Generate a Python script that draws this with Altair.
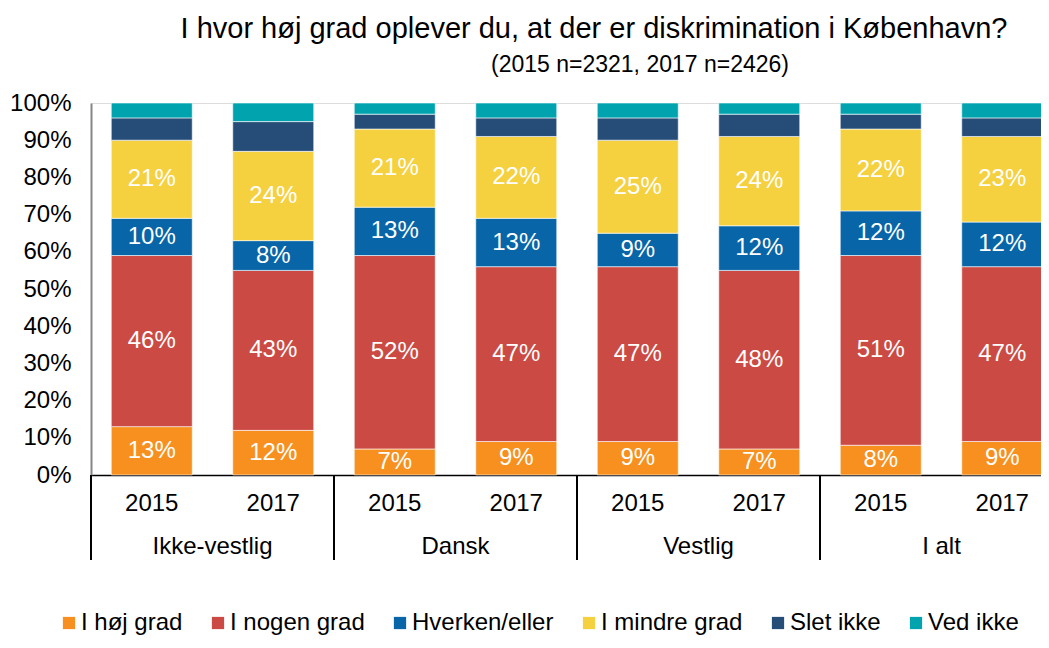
import altair as alt
import pandas as pd

FONT = "Liberation Sans"

groups = ["Ikke-vestlig", "Dansk", "Vestlig", "I alt"]
years = ["2015", "2017"]
categories = ["I høj grad", "I nogen grad", "Hverken/eller", "I mindre grad", "Slet ikke", "Ved ikke"]
colors = ["#F7901E", "#CB4A44", "#0765A8", "#F5D03F", "#264D78", "#00A3AE"]

# values per bar: Ikke-vestlig 2015, 2017, Dansk 2015, 2017, Vestlig 2015, 2017, I alt 2015, 2017
hoej_grad = [13, 12, 7, 9, 9, 7, 8, 9]
nogen_grad = [46, 43, 52, 47, 47, 48, 51, 47]
hverken_eller = [10, 8, 13, 13, 9, 12, 12, 12]
mindre_grad = [21, 24, 21, 22, 25, 24, 22, 23]
slet_ikke = [6, 8, 4, 5, 6, 6, 4, 5]
ved_ikke = [4, 5, 3, 4, 4, 3, 3, 4]
series = [hoej_grad, nogen_grad, hverken_eller, mindre_grad, slet_ikke, ved_ikke]
labelled = [True, True, True, True, False, False]
y_ticks = [0, 0.1, 0.2, 0.3, 0.4, 0.5, 0.6, 0.7, 0.8, 0.9, 1.0]

title_line1 = "I hvor høj grad oplever du, at der er diskrimination i København?"
title_line2 = "(2015 n=2321, 2017 n=2426)"

bar_keys = [f"{g}|{y}" for g in groups for y in years]
rows = []
for ci, (cat, vals) in enumerate(zip(categories, series)):
    for k, v in zip(bar_keys, vals):
        rows.append({"key": k, "cat": cat, "order": ci, "value": v / 100, "show": labelled[ci]})
df = pd.DataFrame(rows)

grp_df = pd.DataFrame({"group": groups, "key": [f"{g}|{years[0]}" for g in groups]})
sub_df = pd.DataFrame({"t": [title_line2]})

W = 950
H = 372
STEP = 121.5

xscale = alt.Scale(domain=bar_keys, range=[0, STEP * len(bar_keys)], paddingInner=0, paddingOuter=0)
yscale = alt.Scale(domain=[0, 1], nice=False)

x_axis = alt.Axis(title=None, labelExpr="split(datum.label, '|')[1]", labelAngle=0,
                  ticks=False, domainColor="#000000", domainWidth=1.5,
                  labelFontSize=24, labelColor="#000000", labelPadding=16,
                  labelFont=FONT, labelOverlap=False)
y_axis = alt.Axis(title=None, values=y_ticks, format=".0%", tickCount=11,
                  ticks=False, grid=False, domainColor="#868686", domainWidth=2,
                  labelFontSize=24, labelColor="#000000", labelPadding=20,
                  labelFont=FONT, labelOverlap=False)

base = alt.Chart(df).transform_stack(
    stack="value", groupby=["key"], as_=["v0", "v1"],
    sort=[alt.SortField("order", "ascending")]
).transform_calculate(mid="(datum.v0 + datum.v1) / 2")

bars = base.mark_bar(size=81, stroke="#FFFFFF", strokeWidth=0.6).encode(
    x=alt.X("key:N", scale=xscale, sort=bar_keys, axis=x_axis),
    y=alt.Y("v0:Q", scale=yscale, axis=y_axis),
    y2="v1:Q",
    color=alt.Color("cat:N", scale=alt.Scale(domain=categories, range=colors),
                    legend=alt.Legend(title=None, orient="none", direction="horizontal",
                                      legendX=-34, legendY=508, symbolType="square",
                                      symbolSize=150, symbolStrokeWidth=0, labelFontSize=24,
                                      labelFont=FONT, labelColor="#000000", labelOffset=0,
                                      columnPadding=23, padding=0, labelLimit=400)),
)

labels = base.transform_filter("datum.show").mark_text(
    color="#FFFFFF", fontSize=24, font=FONT, baseline="middle"
).encode(
    x=alt.X("key:N", scale=xscale, sort=bar_keys, axis=x_axis),
    y=alt.Y("mid:Q", scale=yscale, axis=y_axis),
    text=alt.Text("value:Q", format=".0%"),
)

seps = alt.Chart(grp_df).mark_rule(color="#000000", strokeWidth=2).encode(
    x=alt.X("key:N", scale=xscale, sort=bar_keys, bandPosition=0, axis=x_axis),
    y=alt.value(H),
    y2=alt.value(H + 85),
)

grp_text = alt.Chart(grp_df).mark_text(fontSize=24, font=FONT, color="#000000", baseline="middle").encode(
    x=alt.X("key:N", scale=xscale, sort=bar_keys, bandPosition=1, axis=x_axis),
    y=alt.value(H + 72),
    text="group:N",
)

sub_text = alt.Chart(sub_df).mark_text(fontSize=23, font=FONT, color="#000000", baseline="middle").encode(
    x=alt.value(549),
    y=alt.value(-38),
    text="t:N",
)

chart = alt.layer(bars, labels, seps, grp_text, sub_text).properties(
    width=W, height=H,
    title=alt.TitleParams(title_line1, fontSize=29, font=FONT, fontWeight="normal",
                          color="#000000", anchor="middle", dx=28, offset=10),
    autosize=alt.AutoSizeParams(type="none"),
    padding={"left": 83, "top": 95, "right": 0, "bottom": 161},
).configure_view(stroke=None).configure(font=FONT)

chart.save("out.html", embed_options={"renderer": "svg", "actions": False})
